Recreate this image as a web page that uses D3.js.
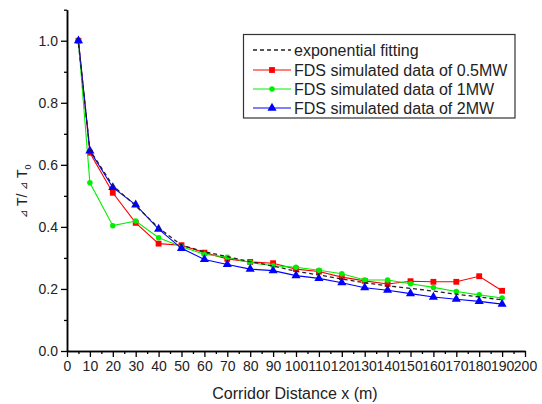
<!DOCTYPE html>
<html><head><meta charset="utf-8">
<script src="https://cdn.jsdelivr.net/npm/d3@7"></script>
<style>body{margin:0;background:#fff}svg{display:block;font-family:Arial,"Liberation Sans",sans-serif}</style>
</head><body>
<svg id="c" width="542" height="404"></svg>
<script>
const xs = [5,10,20,30,40,50,60,70,80,90,100,110,120,130,140,150,160,170,180,190];
const fit = [0.99,0.648,0.533,0.468,0.397,0.341,0.320,0.304,0.288,0.274,0.257,0.245,0.232,0.220,0.210,0.202,0.193,0.183,0.174,0.165];
const mw05 = [1.0,0.639,0.510,0.413,0.346,0.341,0.317,0.297,0.287,0.283,0.264,0.256,0.238,0.226,0.216,0.225,0.223,0.223,0.241,0.194];
const mw1 = [1.0,0.542,0.404,0.419,0.365,0.336,0.312,0.302,0.285,0.275,0.270,0.260,0.249,0.229,0.229,0.217,0.205,0.192,0.181,0.171];
const mw2 = [1.0,0.645,0.527,0.471,0.393,0.331,0.295,0.279,0.264,0.259,0.243,0.234,0.220,0.204,0.196,0.185,0.174,0.167,0.160,0.151];
const legendLabels = ["exponential fitting","FDS simulated data of 0.5MW","FDS simulated data of 1MW","FDS simulated data of 2MW"];
const xTicks = d3.range(0,201,10);
const yTicks = [0,0.2,0.4,0.6,0.8,1.0];

const svg = d3.select("#c");
const x = d3.scaleLinear().domain([0,200]).range([67,525]);
const y = d3.scaleLinear().domain([0,1.1]).range([351,9.7]);

// axes
const gx = svg.append("g").attr("transform","translate(0,351)")
  .call(d3.axisBottom(x).tickValues(xTicks).tickSize(6).tickSizeOuter(0).tickFormat(d3.format("d")));
const gxm = svg.append("g").attr("transform","translate(0,351)")
  .call(d3.axisBottom(x).tickValues(d3.range(5,200,10)).tickSize(3).tickSizeOuter(0).tickFormat(""));
const gy = svg.append("g").attr("transform","translate(67,0)")
  .call(d3.axisLeft(y).tickValues(yTicks).tickSize(6).tickSizeOuter(0).tickFormat(d3.format(".1f")));
const gym = svg.append("g").attr("transform","translate(67,0)")
  .call(d3.axisLeft(y).tickValues([0.1,0.3,0.5,0.7,0.9,1.1]).tickSize(3).tickSizeOuter(0).tickFormat(""));
[gx,gxm,gy,gym].forEach(g=>{
  g.selectAll("path.domain").attr("stroke","#000").attr("stroke-width",1.5);
  g.selectAll(".tick line").attr("stroke","#000").attr("stroke-width",1.3);
  g.selectAll(".tick text").attr("font-size",14).attr("fill","#222").attr("font-family","Arial,'Liberation Sans',sans-serif");
});
gx.selectAll(".tick text").attr("dy","0.9em").attr("y",7);
gy.selectAll(".tick text").attr("x",-9);

// axis titles
svg.append("text").attr("x",295).attr("y",399).attr("text-anchor","middle")
  .attr("font-size",16).attr("fill","#222").text("Corridor Distance x (m)");
const yl = svg.append("text").attr("transform","translate(27,191) rotate(-90)")
  .attr("text-anchor","middle").attr("font-size",14).attr("fill","#222");
yl.append("tspan").attr("font-size",10).text("⊿");
yl.append("tspan").text(" T/ ");
yl.append("tspan").attr("font-size",10).text("⊿");
yl.append("tspan").text(" T");
yl.append("tspan").attr("font-size",9).attr("dy",4).text("0");

const line = d3.line().x((d,i)=>x(xs[i])).y(d=>y(d));

const series = [
  {data:mw05,color:"#ff0000",sym:d3.symbolSquare,size:34},
  {data:mw1,color:"#00ee00",sym:d3.symbolCircle,size:24},
  {data:mw2,color:"#0000ff",sym:d3.symbolTriangle,size:36}
];
series.forEach(s=>{
  svg.append("path").datum(s.data).attr("d",line).attr("fill","none")
    .attr("stroke",s.color).attr("stroke-width",1.1);
  svg.append("g").selectAll("path").data(s.data).join("path")
    .attr("transform",(d,i)=>`translate(${x(xs[i])},${y(d)})`)
    .attr("d",d3.symbol().type(s.sym).size(s.size)).attr("fill",s.color);
});
svg.append("path").datum(fit).attr("d",line).attr("fill","none")
  .attr("stroke","#222").attr("stroke-width",1.3).attr("stroke-dasharray","4,3");

// legend
svg.append("rect").attr("x",243.5).attr("y",34.5).attr("width",271.5).attr("height",83.5)
  .attr("fill","#fff").attr("stroke","#333").attr("stroke-width",1.2);
const ly = [50,70,89,108];
const lg = svg.append("g");
lg.append("line").attr("x1",253).attr("x2",291).attr("y1",ly[0]).attr("y2",ly[0])
  .attr("stroke","#222").attr("stroke-width",1.3).attr("stroke-dasharray","4,3");
series.forEach((s,i)=>{
  lg.append("line").attr("x1",253).attr("x2",291).attr("y1",ly[i+1]).attr("y2",ly[i+1])
    .attr("stroke",s.color).attr("stroke-width",1.1);
  lg.append("path").attr("transform",`translate(272,${ly[i+1]})`)
    .attr("d",d3.symbol().type(s.sym).size(s.size)).attr("fill",s.color);
});
legendLabels.forEach((t,i)=>{
  lg.append("text").attr("x",294).attr("y",ly[i]).attr("dy","0.35em")
    .attr("font-size",16).attr("fill","#222").text(t);
});
</script>
</body></html>
